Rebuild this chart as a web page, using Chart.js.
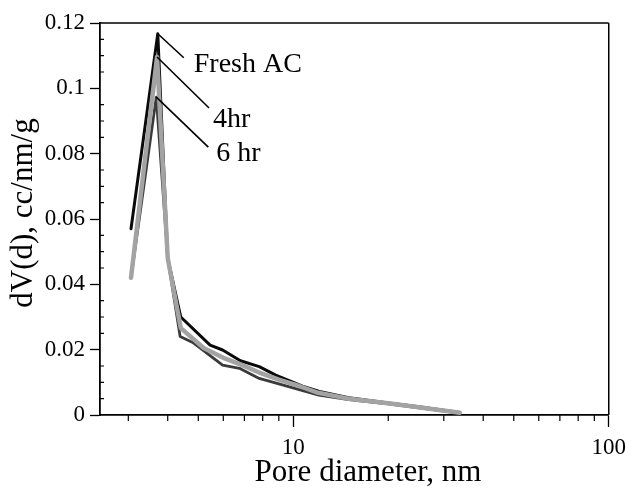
<!DOCTYPE html>
<html><head><meta charset="utf-8">
<script src="https://cdn.jsdelivr.net/npm/chart.js@4/dist/chart.umd.min.js"></script>
<style>html,body{margin:0;padding:0;background:#fff}</style>
</head><body>
<canvas id="c" width="633" height="500"></canvas>
<script>
// ---- data ----
const seriesNames = ['Fresh AC', '4hr', '6 hr'];
const freshX = [3.06, 3.72, 4.0, 4.4, 5.45, 5.97, 6.8, 7.8, 8.8, 10.7, 12.1, 15, 20, 25, 33.7];
const freshY = [0.057, 0.1167, 0.048, 0.030, 0.0214, 0.0199, 0.0166, 0.0148, 0.0122, 0.0088, 0.0072, 0.0053, 0.0037, 0.0025, 0.0008];
const hr4X = [3.06, 3.70, 4.0, 4.4, 5.2, 6.0, 6.8, 7.8, 9.0, 10.5, 12, 15, 20, 25, 33.7];
const hr4Y = [0.042, 0.1096, 0.048, 0.0266, 0.0205, 0.0175, 0.0155, 0.0130, 0.0108, 0.0088, 0.0068, 0.0050, 0.0036, 0.0024, 0.0007];
const hr6X = [3.06, 3.68, 4.0, 4.38, 4.8, 5.97, 6.75, 7.8, 12.05, 15, 20, 25, 33.7];
const hr6Y = [0.042, 0.0973, 0.048, 0.024, 0.0222, 0.0153, 0.0143, 0.0112, 0.0061, 0.0047, 0.0034, 0.0022, 0.0006];
const xTickLabels = [10, 100];
const xMinorTicks = [3, 4, 5, 6, 7, 8, 9, 20, 30, 40, 50, 60, 70, 80, 90];
const yTickLabels = ['0', '0.02', '0.04', '0.06', '0.08', '0.1', '0.12'];
const xTitle = 'Pore diameter, nm';
const yTitle = 'dV(d), cc/nm/g';

const toPts = (xs, ys) => xs.map((x, i) => ({x: x, y: ys[i]}));
const SERIF = '"Liberation Serif", "Times New Roman", serif';

const decor = {
  id: 'decor',
  afterDraw(chart) {
    const {ctx, chartArea: a, scales: {x, y}} = chart;
    ctx.save();
    ctx.strokeStyle = '#000';
    ctx.lineWidth = 1.5;
    // top and right frame
    ctx.beginPath();
    ctx.moveTo(a.left, a.top); ctx.lineTo(a.right, a.top);
    ctx.moveTo(a.right, a.top); ctx.lineTo(a.right, a.bottom);
    ctx.stroke();
    // minor ticks x (outward)
    ctx.lineWidth = 1.2;
    ctx.beginPath();
    xMinorTicks.forEach(v => { const px = x.getPixelForValue(v); ctx.moveTo(px, a.bottom); ctx.lineTo(px, a.bottom + 6); });
    // minor ticks y (inward)
    for (let v = 0.005; v < 0.12; v += 0.005) {
      if (Math.abs(v / 0.02 - Math.round(v / 0.02)) < 1e-6) continue;
      const py = y.getPixelForValue(v);
      ctx.moveTo(a.left, py); ctx.lineTo(a.left + 4, py);
    }
    ctx.stroke();
    // leader lines + labels
    const peaks = [[freshX, freshY], [hr4X, hr4Y], [hr6X, hr6Y]].map(([xs, ys]) => {
      const i = ys.indexOf(Math.max(...ys));
      return [x.getPixelForValue(xs[i]), y.getPixelForValue(ys[i])];
    });
    const leadOff = [[26, 24], [52, 51], [52, 50]];
    const textOff = [[36, 31], [56, 63], [60, 56]];
    ctx.lineWidth = 1.6;
    ctx.fillStyle = '#000';
    ctx.font = '28px ' + SERIF;
    ctx.textBaseline = 'middle';
    ctx.textAlign = 'left';
    peaks.forEach((p, i) => {
      ctx.beginPath();
      ctx.moveTo(p[0], p[1]);
      ctx.lineTo(p[0] + leadOff[i][0], p[1] + leadOff[i][1]);
      ctx.stroke();
      ctx.fillText(seriesNames[i], p[0] + textOff[i][0], p[1] + textOff[i][1]);
    });
    // axis titles
    ctx.font = '31px ' + SERIF;
    ctx.textAlign = 'center';
    ctx.fillText(xTitle, 368, 473);
    ctx.translate(24, 213);
    ctx.rotate(-Math.PI / 2);
    ctx.fillText(yTitle, 0, 0);
    ctx.restore();
  }
};

new Chart(document.getElementById('c'), {
  type: 'line',
  data: {
    datasets: [
      {label: seriesNames[1], data: toPts(hr4X, hr4Y), borderColor: '#a3a3a3', borderWidth: 4.5},
      {label: seriesNames[2], data: toPts(hr6X, hr6Y), borderColor: '#3a3a3a', borderWidth: 2.8},
      {label: seriesNames[0], data: toPts(freshX, freshY), borderColor: '#0a0a0a', borderWidth: 3}
    ].map(d => Object.assign(d, {pointRadius: 0, tension: 0, fill: false, borderJoinStyle: 'round', borderCapStyle: 'round'}))
  },
  options: {
    responsive: false,
    animation: false,
    layout: {padding: {top: 23, right: 22, left: 0, bottom: 0}},
    plugins: {legend: {display: false}, tooltip: {enabled: false}},
    scales: {
      x: {
        type: 'logarithmic',
        min: 2.44, max: 100,
        border: {display: true, color: '#000', width: 1.8},
        grid: {display: true, drawOnChartArea: false, drawTicks: true, tickLength: 12, tickColor: '#000', tickWidth: 1.3},
        ticks: {
          autoSkip: false, maxRotation: 0, padding: 7, color: '#000',
          font: {family: SERIF, size: 23},
          callback: (v) => {
            const hit = xTickLabels.find(t => Math.abs(v - t) < 1e-6);
            return hit === undefined ? null : String(hit);
          }
        },
        afterFit: (s) => { s.height = 85; }
      },
      y: {
        min: 0, max: 0.12,
        border: {display: true, color: '#000', width: 1.8},
        grid: {display: true, drawOnChartArea: false, drawTicks: true, tickLength: 10, tickColor: '#000', tickWidth: 1.3},
        ticks: {
          stepSize: 0.02, padding: 5, color: '#000',
          font: {family: SERIF, size: 23},
          callback: (v) => yTickLabels[Math.round(v / 0.02)]
        },
        afterFit: (s) => { s.width = 100; }
      }
    }
  },
  plugins: [decor]
});
</script>
</body></html>
